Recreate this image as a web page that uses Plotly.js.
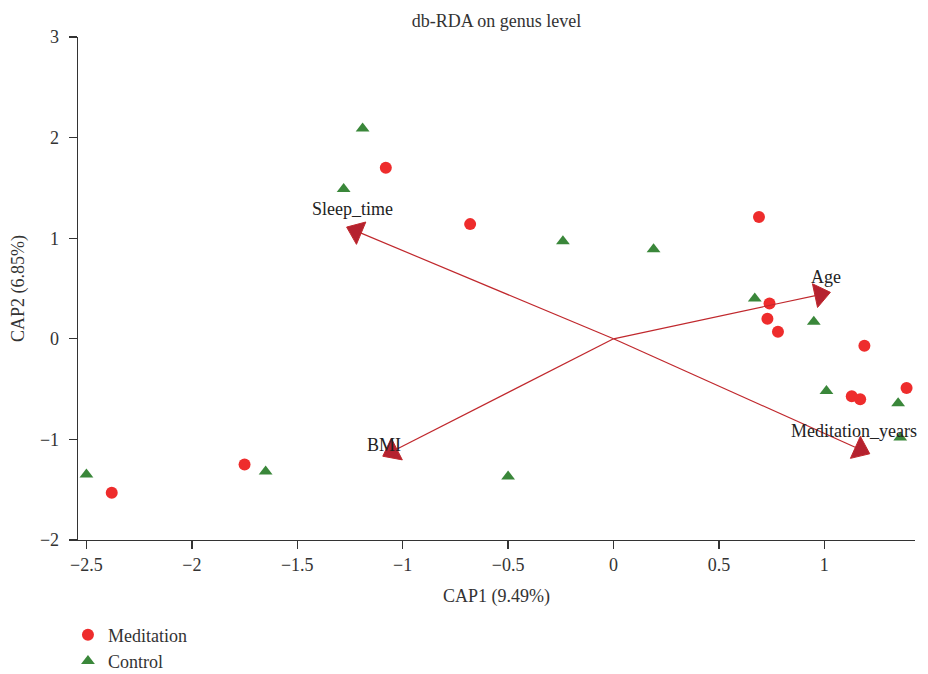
<!DOCTYPE html>
<html>
<head>
<meta charset="utf-8">
<script src="https://cdn.plot.ly/plotly-3.0.1.min.js"></script>
<style>html,body{margin:0;padding:0;background:#fff;}#chart{width:928px;height:674px;}</style>
</head>
<body>
<div id="chart"></div>
<script>
// Sample scores
const medX = [-1.08, -0.68, 0.69, 0.74, 0.73, 0.78, 1.19, 1.39, 1.13, 1.17, -1.75, -2.38];
const medY = [1.70, 1.14, 1.21, 0.35, 0.20, 0.07, -0.07, -0.49, -0.57, -0.60, -1.25, -1.53];
const ctlX = [-1.19, -1.28, -0.24, 0.19, 0.67, 0.95, 1.01, 1.35, 1.36, -0.50, -2.50, -1.65];
const ctlY = [2.09, 1.49, 0.97, 0.89, 0.40, 0.17, -0.52, -0.64, -0.98, -1.37, -1.35, -1.32];
// Environmental factor vectors
const envNames = ["Sleep_time", "Age", "BMI", "Meditation_years"];
const envX = [-1.22, 0.98, -1.05, 1.17];
const envY = [1.07, 0.44, -1.12, -1.10];

const serif = "Liberation Serif, Times New Roman, serif";
const txt = "#333333";

const traces = [
  {x: medX, y: medY, type: "scatter", mode: "markers", name: "Meditation",
   marker: {symbol: "circle", size: 12, color: "#EE2C2C", opacity: 1}},
  {x: ctlX, y: ctlY, type: "scatter", mode: "markers", name: "Control",
   marker: {symbol: "triangle-up", size: 12, color: "#3A873A", opacity: 1}}
];
envNames.forEach((n, i) => {
  traces.push({
    x: [0, envX[i]], y: [0, envY[i]], type: "scatter", mode: "lines+markers",
    showlegend: false, hoverinfo: "skip",
    line: {color: "#C0282D", width: 1.2},
    marker: {symbol: "triangle-up", size: [0, 21], color: "#B5222F", opacity: 1, angleref: "previous"}
  });
});

const labelShift = {
  "Sleep_time": {xshift: -4, yshift: 22},
  "Age": {xshift: 6, yshift: 18},
  "BMI": {xshift: -8, yshift: 6},
  "Meditation_years": {xshift: -6, yshift: 18}
};
const annotations = envNames.map((n, i) => Object.assign({
  x: envX[i], y: envY[i], xref: "x", yref: "y", text: n, showarrow: false,
  xanchor: "center", yanchor: "middle", font: {family: serif, size: 18, color: "#222"}
}, labelShift[n]));

const layout = {
  width: 928, height: 674,
  margin: {l: 78, r: 13, t: 37, b: 134, autoexpand: false},
  paper_bgcolor: "#fff", plot_bgcolor: "#fff",
  font: {family: serif, size: 18, color: txt},
  title: {text: "db-RDA on genus level", x: 0.5, xref: "paper", xanchor: "center",
          y: 1, yref: "paper", yanchor: "bottom", pad: {b: 10},
          font: {family: serif, size: 18, color: txt}},
  xaxis: {range: [-2.54, 1.43], tickvals: [-2.5, -2, -1.5, -1, -0.5, 0, 0.5, 1],
          ticktext: ["−2.5", "−2", "−1.5", "−1", "−0.5", "0", "0.5", "1"],
          showgrid: false, zeroline: false, showline: true, linecolor: "#333", linewidth: 1.3,
          ticks: "outside", ticklen: 8, tickcolor: "#333", tickwidth: 1.3,
          tickfont: {family: serif, size: 18, color: txt}, automargin: false,
          title: {text: "CAP1 (9.49%)", standoff: 15, font: {family: serif, size: 18, color: txt}}},
  yaxis: {range: [-2, 3], tickvals: [-2, -1, 0, 1, 2, 3],
          ticktext: ["−2", "−1", "0", "1", "2", "3"],
          showgrid: false, zeroline: false, showline: true, linecolor: "#333", linewidth: 1.3,
          ticks: "outside", ticklen: 8, tickcolor: "#333", tickwidth: 1.3, ticklabelstandoff: 6,
          tickfont: {family: serif, size: 18, color: txt}, automargin: false,
          title: {text: "CAP2 (6.85%)", standoff: 10, font: {family: serif, size: 18, color: txt}}},
  showlegend: true,
  legend: {x: -0.012, xanchor: "left", y: -0.152, yanchor: "top", orientation: "v",
           font: {family: serif, size: 18, color: txt}, tracegroupgap: 0, itemsizing: "constant"},
  annotations: annotations
};

Plotly.newPlot("chart", traces, layout, {displayModeBar: false, staticPlot: true});
</script>
</body>
</html>
